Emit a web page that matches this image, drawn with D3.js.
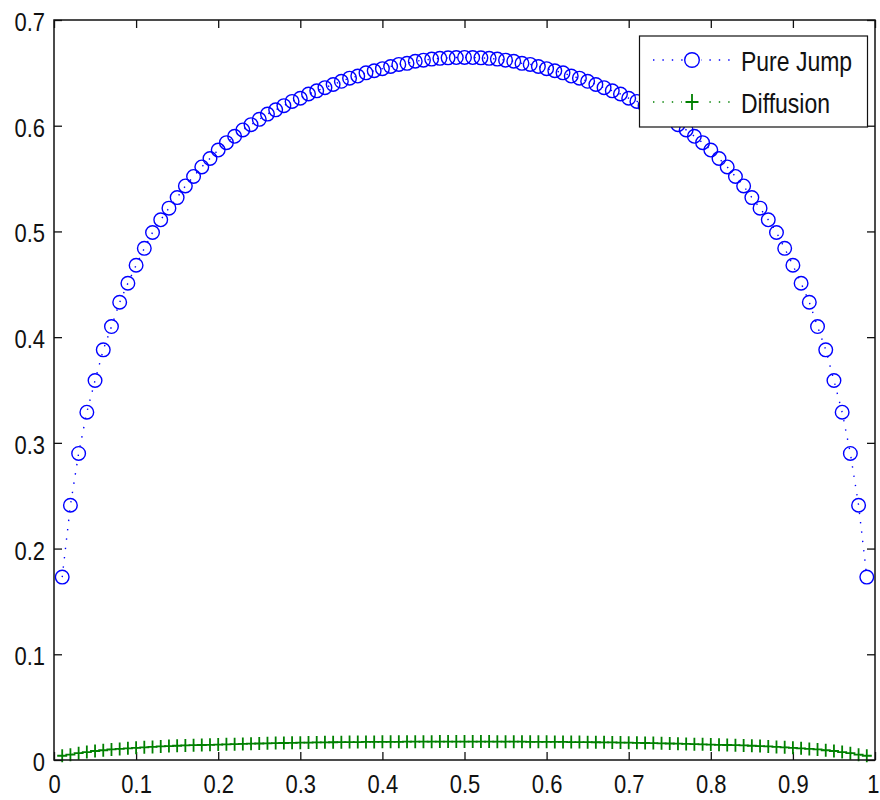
<!DOCTYPE html>
<html>
<head>
<meta charset="utf-8">
<script src="https://cdn.jsdelivr.net/npm/d3@7/dist/d3.min.js"></script>
<style>
  html, body { margin: 0; padding: 0; background: #fff; }
  svg { display: block; }
  text { font-family: "Liberation Sans", Arial, sans-serif; fill: #111; }
</style>
</head>
<body>
<svg id="chart" width="880" height="800"></svg>
<script>
// Grid of x positions
const xs = [
  0.01,0.02,0.03,0.04,0.05,0.06,0.07,0.08,0.09,0.10,
  0.11,0.12,0.13,0.14,0.15,0.16,0.17,0.18,0.19,0.20,
  0.21,0.22,0.23,0.24,0.25,0.26,0.27,0.28,0.29,0.30,
  0.31,0.32,0.33,0.34,0.35,0.36,0.37,0.38,0.39,0.40,
  0.41,0.42,0.43,0.44,0.45,0.46,0.47,0.48,0.49,0.50,
  0.51,0.52,0.53,0.54,0.55,0.56,0.57,0.58,0.59,0.60,
  0.61,0.62,0.63,0.64,0.65,0.66,0.67,0.68,0.69,0.70,
  0.71,0.72,0.73,0.74,0.75,0.76,0.77,0.78,0.79,0.80,
  0.81,0.82,0.83,0.84,0.85,0.86,0.87,0.88,0.89,0.90,
  0.91,0.92,0.93,0.94,0.95,0.96,0.97,0.98,0.99
];

// Pure jump series
const pureJump = [
  0.173,0.241,0.290,0.329,0.359,0.388,0.410,0.433,0.451,0.468,
  0.484,0.499,0.511,0.522,0.532,0.543,0.552,0.561,0.569,0.577,
  0.584,0.590,0.596,0.601,0.606,0.611,0.615,0.619,0.623,0.626,
  0.630,0.633,0.636,0.639,0.642,0.645,0.647,0.650,0.652,0.654,
  0.656,0.658,0.659,0.661,0.662,0.663,0.6637,0.6642,0.6645,0.6646,
  0.6645,0.6642,0.6637,0.663,0.662,0.661,0.659,0.658,0.656,0.654,
  0.652,0.650,0.647,0.645,0.642,0.639,0.636,0.633,0.630,0.626,
  0.623,0.619,0.615,0.611,0.606,0.601,0.596,0.590,0.584,0.577,
  0.569,0.561,0.552,0.543,0.532,0.522,0.511,0.499,0.484,0.468,
  0.451,0.433,0.410,0.388,0.359,0.329,0.290,0.241,0.173
];

// Diffusion series
const diffusion = [
  0.004,0.005,0.0065,0.0075,0.0085,0.0092,0.010,0.0105,0.011,0.0115,
  0.012,0.0124,0.0128,0.0132,0.0135,0.0138,0.014,0.0142,0.0144,0.0146,
  0.0148,0.015,0.0152,0.0154,0.0156,0.0158,0.016,0.0161,0.0162,0.0164,
  0.0165,0.0166,0.0167,0.0168,0.0169,0.017,0.017,0.0171,0.0171,0.0172,
  0.0172,0.0172,0.0173,0.0173,0.0173,0.0173,0.0174,0.0174,0.0174,0.0174,
  0.0174,0.0174,0.0174,0.0173,0.0173,0.0173,0.0173,0.0172,0.0172,0.0172,
  0.0171,0.0171,0.017,0.017,0.0169,0.0168,0.0167,0.0166,0.0165,0.0164,
  0.0162,0.0161,0.016,0.0158,0.0156,0.0154,0.0152,0.015,0.0148,0.0146,
  0.0144,0.0142,0.014,0.0138,0.0135,0.0132,0.0128,0.0124,0.012,0.0115,
  0.011,0.0105,0.010,0.0092,0.0085,0.0075,0.0065,0.005,0.004
];

const xTicks = [0,0.1,0.2,0.3,0.4,0.5,0.6,0.7,0.8,0.9,1];
const yTicks = [0,0.1,0.2,0.3,0.4,0.5,0.6,0.7];
const seriesNames = ["Pure Jump", "Diffusion"];

const BLUE = "#0000ff";
const GREEN = "#008000";

const svg = d3.select("#chart");
const plotLeft = 54, plotRight = 875, plotTop = 20, plotBottom = 760;

const x = d3.scaleLinear().domain([0, 1]).range([plotLeft, plotRight]);
const y = d3.scaleLinear().domain([0, 0.7]).range([plotBottom, plotTop]);

svg.append("rect").attr("width", 880).attr("height", 800).attr("fill", "#fff");

// Axes: inward ticks on all four sides
const fmt = d => d === 0 ? "0" : d === 1 ? "1" : d3.format(".1f")(d);

const gx = svg.append("g").attr("transform", `translate(0,${plotBottom})`)
  .call(d3.axisBottom(x).tickValues(xTicks).tickSize(-8).tickFormat(fmt));
const gy = svg.append("g").attr("transform", `translate(${plotLeft},0)`)
  .call(d3.axisLeft(y).tickValues(yTicks).tickSize(-8).tickFormat(fmt));
svg.append("g").attr("transform", `translate(0,${plotTop})`)
  .call(d3.axisTop(x).tickValues(xTicks).tickSize(-8).tickFormat(""));
svg.append("g").attr("transform", `translate(${plotRight},0)`)
  .call(d3.axisRight(y).tickValues(yTicks).tickSize(-8).tickFormat(""));

svg.selectAll(".domain").remove();
svg.selectAll(".tick line").attr("stroke", "#111").attr("stroke-width", 1.3);

gx.selectAll(".tick text")
  .attr("y", 0).attr("dy", 0)
  .attr("text-anchor", d => d === 1 ? "end" : "middle")
  .attr("transform", d => d === 1 ? "translate(4,33) scale(1,1.2)" : "translate(0,33) scale(1,1.2)")
  .style("font-size", "22px").attr("fill", "#111");
gy.selectAll(".tick text")
  .attr("x", 0).attr("dy", 0)
  .attr("text-anchor", "end")
  .attr("transform", "translate(-9,10.5) scale(1,1.2)")
  .style("font-size", "22px").attr("fill", "#111");

// Dotted connecting lines
const line = (vals) => d3.line()
  .x((d, i) => x(xs[i]))
  .y(d => y(d))(vals);

svg.append("path")
  .attr("d", line(pureJump))
  .attr("fill", "none").attr("stroke", BLUE)
  .attr("stroke-width", 1.4).attr("stroke-dasharray", "1.4,8");

svg.append("g").selectAll("circle").data(pureJump).join("circle")
  .attr("cx", (d, i) => x(xs[i]))
  .attr("cy", d => y(d))
  .attr("r", 6.8)
  .attr("fill", "none").attr("stroke", BLUE).attr("stroke-width", 1.4);

svg.append("path")
  .attr("d", line(diffusion))
  .attr("fill", "none").attr("stroke", GREEN)
  .attr("stroke-width", 1.4).attr("stroke-dasharray", "1.4,8");

const plus = "M-5,0H5M0,-6.5V6.5";
svg.append("g").selectAll("path").data(diffusion).join("path")
  .attr("transform", (d, i) => `translate(${x(xs[i])},${y(d)})`)
  .attr("d", plus)
  .attr("fill", "none").attr("stroke", GREEN).attr("stroke-width", 1.8);

// Plot frame
svg.append("rect")
  .attr("x", plotLeft).attr("y", plotTop)
  .attr("width", plotRight - plotLeft).attr("height", plotBottom - plotTop)
  .attr("fill", "none").attr("stroke", "#111").attr("stroke-width", 1.5);

// Legend
const lg = svg.append("g");
lg.append("rect")
  .attr("x", 639.5).attr("y", 36)
  .attr("width", 228).attr("height", 91)
  .attr("fill", "#fff").attr("stroke", "#111").attr("stroke-width", 1.2);

const rows = [
  { name: seriesNames[0], color: BLUE, y: 60, marker: "circle" },
  { name: seriesNames[1], color: GREEN, y: 102, marker: "plus" }
];
rows.forEach(r => {
  lg.append("line")
    .attr("x1", 653).attr("x2", 733).attr("y1", r.y).attr("y2", r.y)
    .attr("stroke", r.color).attr("stroke-width", 1.4)
    .attr("stroke-dasharray", "1.4,8");
  if (r.marker === "circle") {
    lg.append("rect").attr("x", 683).attr("y", r.y - 9).attr("width", 18).attr("height", 18).attr("fill", "#fff");
    lg.append("circle").attr("cx", 692).attr("cy", r.y).attr("r", 7.3)
      .attr("fill", "none").attr("stroke", r.color).attr("stroke-width", 1.4);
  } else {
    lg.append("rect").attr("x", 682).attr("y", r.y - 9).attr("width", 20).attr("height", 18).attr("fill", "#fff");
    lg.append("path").attr("transform", `translate(692,${r.y})`)
      .attr("d", "M-6.5,0H6.5M0,-8V8")
      .attr("stroke", r.color).attr("stroke-width", 1.8);
  }
  lg.append("text")
    .attr("transform", `translate(741,${r.y + 10.5}) scale(1,1.2)`)
    .style("font-size", "23px").attr("fill", "#111")
    .text(r.name);
});
</script>
</body>
</html>
